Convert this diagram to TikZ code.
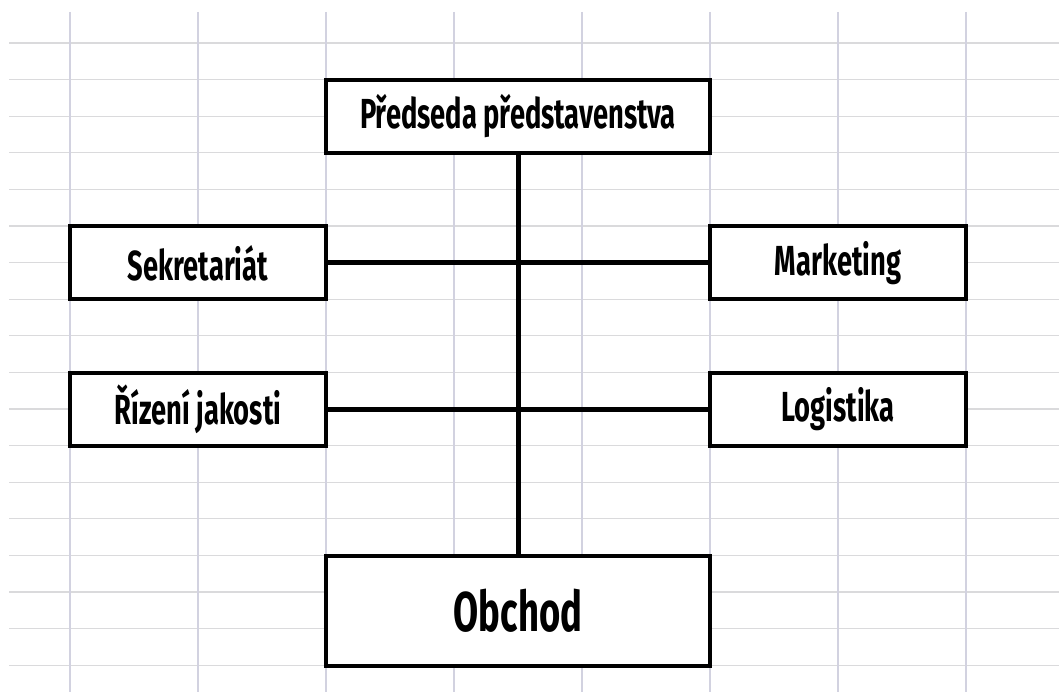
\documentclass[tikz,border=0pt]{standalone}
\usepackage{fontspec}
\setmainfont{Fira Sans}[FakeStretch=0.65]
\usepackage{xcolor}
\definecolor{GridGray}{RGB}{218,218,220}
\definecolor{GridBlue}{RGB}{210,210,224}

\begin{document}
\begin{tikzpicture}[
x=1pt,y=-1pt,
box/.style={rectangle,draw=black,fill=white,line width=4pt,
minimum width=256pt,minimum height=73pt,align=center,
font=\bfseries\fontsize{42}{44}\selectfont},
link/.style={line width=5pt,draw=black}
]
\useasboundingbox (0,0) rectangle (1059,692);
% spreadsheet grid
\foreach \k in {0,...,17}
  \draw[GridGray,line width=1.2pt] (9,43+36.6*\k) -- (1059,43+36.6*\k);
\foreach \k in {0,...,7}
  \draw[GridBlue,line width=1.2pt] (70+128*\k,12) -- (70+128*\k,692);
% boxes
\node[box,minimum width=384pt] (pred) at (518,116.5) {Předseda představenstva};
\node[box] (sekr) at (198,263) {Sekretariát};
\node[box] (riz) at (198,409.5) {Řízení jakosti};
\node[box] (mark) at (838,263) {Marketing};
\node[box] (logi) at (838,409.5) {Logistika};
\node[box,minimum width=384pt,minimum height=110pt,
font=\bfseries\fontsize{56}{58}\selectfont] (obch) at (518,611) {Obchod};
% connectors
\draw[link] (pred.south) -- (obch.north);
\draw[link] (sekr) -- (mark);
\draw[link] (riz) -- (logi);
\end{tikzpicture}
\end{document}
